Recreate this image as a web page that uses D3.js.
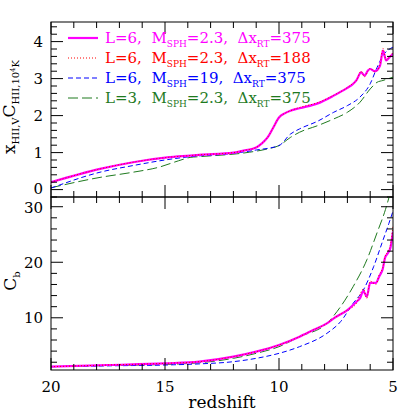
<!DOCTYPE html>
<html>
<head>
<meta charset="utf-8">
<script src="https://cdn.jsdelivr.net/npm/d3@7"></script>
<style>
  html, body { margin: 0; padding: 0; background: #fff; }
  text { font-family: "DejaVu Serif", "Liberation Serif", serif; white-space: pre; }
</style>
</head>
<body>
<div id="chart"></div>
<script>
// Ionized fraction (top) and clumping factor (bottom) vs redshift, 4 runs

// top panel: x_HII,V * C_HII,10^4K
const zMagTop = [20, 17.85, 16.4, 14.9, 13.9, 13.5, 12, 11.5, 11, 10.75, 10.5, 10.25, 10, 9.75, 9.5, 9.1, 8.3, 7.6, 7.0, 6.8, 6.6, 6.4, 6.25, 6.1, 6.0, 5.8, 5.57, 5.44, 5.3, 5.15, 5.0];
const vMagTop = [0.2, 0.56, 0.74, 0.87, 0.92, 0.94, 1.0, 1.06, 1.14, 1.25, 1.41, 1.68, 1.95, 2.06, 2.13, 2.2, 2.33, 2.54, 2.75, 2.83, 2.96, 3.17, 3.08, 3.22, 3.26, 3.2, 3.35, 3.76, 3.49, 3.58, 3.67];
const zRedTop = [20, 17.85, 16.4, 14.9, 13.9, 13.5, 12, 11.5, 11, 10.75, 10.5, 10.25, 10, 9.75, 9.5, 9.1, 8.3, 7.6, 7.0, 6.8, 6.6, 6.4, 6.25, 6.1, 6.0, 5.8, 5.57, 5.44, 5.3, 5.15, 5.0];
const vRedTop = [0.2, 0.56, 0.74, 0.87, 0.92, 0.94, 1.0, 1.06, 1.14, 1.25, 1.41, 1.68, 1.95, 2.06, 2.13, 2.22, 2.35, 2.55, 2.76, 2.85, 2.95, 3.2, 3.05, 3.2, 3.28, 3.18, 3.38, 3.82, 3.5, 3.6, 3.7];
const zBlueTop = [20, 17.85, 16.4, 14.9, 13.9, 12, 11, 10, 9.5, 9.1, 8.3, 7.6, 7.0, 6.45, 6.0, 5.7, 5.44, 5.0];
const vBlueTop = [0.04, 0.47, 0.65, 0.81, 0.89, 0.98, 1.07, 1.19, 1.5, 1.64, 1.85, 2.09, 2.27, 2.5, 2.86, 3.3, 3.62, 3.85];
const zGreenTop = [20, 17.85, 16.4, 15.3, 14.4, 13.9, 13.5, 11.3, 10.5, 10, 9.5, 9.1, 8.3, 7.6, 7.0, 6.45, 6.0, 5.7, 5.44, 5.0];
const vGreenTop = [0.05, 0.33, 0.47, 0.6, 0.78, 0.87, 0.89, 1.01, 1.1, 1.19, 1.41, 1.55, 1.73, 1.91, 2.09, 2.36, 2.72, 2.9, 2.95, 3.04];

// bottom panel: C_b
const zMagBot = [20, 17.5, 15, 13.5, 12, 11, 10, 9.1, 8.5, 7.9, 7.6, 7.0, 6.6, 6.45, 6.3, 6.15, 6.0, 5.75, 5.6, 5.45, 5.35, 5.25, 5.12, 5.0];
const vMagBot = [1.2, 1.5, 1.8, 2.1, 3.0, 3.9, 5.1, 6.6, 7.8, 9.0, 9.9, 11.4, 12.9, 13.5, 14.8, 13.8, 16.3, 16.3, 17.5, 18.8, 20.8, 21.5, 22.5, 25.5];
const zRedBot = [20, 17.5, 15, 13.5, 12, 11, 10, 9.1, 8.5, 7.9, 7.6, 7.0, 6.6, 6.45, 6.3, 6.15, 6.0, 5.75, 5.6, 5.45, 5.35, 5.25, 5.12, 5.0];
const vRedBot = [1.2, 1.5, 1.8, 2.1, 3.0, 3.9, 5.1, 6.6, 7.8, 9.0, 9.9, 11.4, 12.6, 14.2, 15.2, 13.5, 16.6, 16.0, 17.8, 19.0, 21.0, 21.8, 23.0, 26.5];
const zBlueBot = [20, 17.5, 15, 13.5, 12, 11, 10, 9.1, 7.9, 7.3, 6.75, 6.3, 5.85, 5.48, 5.18, 5.0];
const vBlueBot = [1.2, 1.35, 1.5, 1.7, 2.1, 2.7, 3.6, 4.8, 7.2, 9.3, 12.6, 15, 19.2, 23.5, 27, 29.2];
const zGreenBot = [20, 17.5, 15, 13.5, 12, 11, 10, 9.1, 7.9, 7.3, 6.75, 6.14, 5.7, 5.33, 5.12];
const vGreenBot = [1.2, 1.4, 1.6, 1.9, 2.7, 3.6, 4.8, 6.6, 9.0, 12, 15.6, 20.5, 25.3, 29.5, 32.5];

const runLabels = [
    ["L=6,  M", "SPH", "=2.3,  \u0394x", "RT", "=375"],
    ["L=6,  M", "SPH", "=2.3,  \u0394x", "RT", "=188"],
    ["L=6,  M", "SPH", "=19,  \u0394x", "RT", "=375"],
    ["L=3,  M", "SPH", "=2.3,  \u0394x", "RT", "=375"]
];
const runColors = ["#ff00ff", "#ff0000", "#0000ff", "#1e7a1e"];
const runDash = [null, "1,2", "5,3", "10,4"];
const runWidth = [2.2, 1, 1, 1];

const topTicks = [0, 1, 2, 3, 4];
const botTicks = [10, 20, 30];
const xTicks = [20, 15, 10, 5];

const W = 415, H = 415;
const left = 51, right = 393, top1 = 22, mid = 197, bottom = 370;

const svg = d3.select("#chart").append("svg")
    .attr("width", W)
    .attr("height", H);

const x = d3.scaleLinear().domain([20, 5]).range([left, right]);
const yTop = d3.scaleLinear().domain([-0.2, 4.53]).range([mid, top1]);
const yBot = d3.scaleLinear().domain([0.6, 31.75]).range([bottom, mid]);

function drawPanel(y, id, series, yMajor, yMinorStep) {
    svg.append("clipPath").attr("id", id)
        .append("rect")
        .attr("x", left).attr("y", y.range()[1])
        .attr("width", right - left).attr("height", y.range()[0] - y.range()[1]);

    const g = svg.append("g").attr("clip-path", `url(#${id})`);
    // back to front: green, blue, magenta, red dots on top
    [3, 2, 0, 1].forEach(i => {
        const s = series[i];
        const pts = s[0].map((z, j) => [z, s[1][j]]);
        const line = d3.line()
            .x(d => x(d[0]))
            .y(d => y(d[1]))
            .curve(d3.curveMonotoneX);
        g.append("path")
            .attr("d", line(pts))
            .attr("fill", "none")
            .attr("stroke", runColors[i])
            .attr("stroke-width", runWidth[i])
            .attr("stroke-dasharray", runDash[i]);
    });

    const ax = svg.append("g").attr("stroke", "#000").attr("stroke-width", 1);
    const [y0, y1] = y.range();
    ax.append("rect")
        .attr("x", left).attr("y", y1)
        .attr("width", right - left).attr("height", y0 - y1)
        .attr("fill", "none");

    // x ticks on the top and bottom edge
    d3.range(5, 20.01, 1).forEach(z => {
        const len = z % 5 === 0 ? 12 : 6;
        const xx = x(z);
        ax.append("line").attr("x1", xx).attr("x2", xx).attr("y1", y0).attr("y2", y0 - len);
        ax.append("line").attr("x1", xx).attr("x2", xx).attr("y1", y1).attr("y2", y1 + len);
    });

    // y ticks left and right
    const [d0, d1] = y.domain();
    const start = Math.ceil(d0 / yMinorStep) * yMinorStep;
    d3.range(start, d1 + 1e-9, yMinorStep).forEach(v => {
        const isMajor = Math.abs(v / yMajor - Math.round(v / yMajor)) < 1e-6;
        const len = isMajor ? 12 : 6;
        const yy = y(v);
        ax.append("line").attr("x1", left).attr("x2", left + len).attr("y1", yy).attr("y2", yy);
        ax.append("line").attr("x1", right).attr("x2", right - len).attr("y1", yy).attr("y2", yy);
    });
}

drawPanel(yTop, "clipTop",
    [[zMagTop, vMagTop], [zRedTop, vRedTop], [zBlueTop, vBlueTop], [zGreenTop, vGreenTop]],
    1, 0.2);
drawPanel(yBot, "clipBot",
    [[zMagBot, vMagBot], [zRedBot, vRedBot], [zBlueBot, vBlueBot], [zGreenBot, vGreenBot]],
    10, 2);

// tick labels
const fs = 15;
svg.append("g").selectAll("text").data(topTicks).join("text")
    .attr("x", left - 8).attr("y", d => yTop(d) - (d === 0 ? 1 : 0)).attr("dy", "0.36em")
    .attr("text-anchor", "end").attr("font-size", fs).text(d => d);
svg.append("g").selectAll("text").data(botTicks).join("text")
    .attr("x", left - 8).attr("y", d => yBot(d) + (d === 30 ? 1 : 0)).attr("dy", "0.36em")
    .attr("text-anchor", "end").attr("font-size", fs).text(d => d);
svg.append("g").selectAll("text").data(xTicks).join("text")
    .attr("x", d => x(d)).attr("y", 392)
    .attr("text-anchor", "middle").attr("font-size", fs).text(d => d);

svg.append("text")
    .attr("x", (left + right) / 2).attr("y", 408)
    .attr("text-anchor", "middle").attr("font-size", 17)
    .text("redshift");

// y labels
const yl1 = svg.append("text")
    .attr("transform", "translate(15,107) rotate(-90)")
    .attr("text-anchor", "middle").attr("font-size", 17);
yl1.append("tspan").text("x");
yl1.append("tspan").attr("font-size", 10).attr("dy", 4).text("HII,V");
yl1.append("tspan").attr("dy", -4).text("C");
yl1.append("tspan").attr("font-size", 10).attr("dy", 4).text("HII,10");
yl1.append("tspan").attr("font-size", 7).attr("dy", -4).text("4");
yl1.append("tspan").attr("font-size", 10).attr("dy", 4).text("K");

const yl2 = svg.append("text")
    .attr("transform", "translate(16,281) rotate(-90)")
    .attr("text-anchor", "middle").attr("font-size", 17);
yl2.append("tspan").text("C");
yl2.append("tspan").attr("font-size", 10).attr("dy", 4).text("b");

// legend
runLabels.forEach((parts, i) => {
    const yy = 38 + i * 20;
    svg.append("line")
        .attr("x1", 68).attr("x2", 98).attr("y1", yy).attr("y2", yy)
        .attr("stroke", runColors[i])
        .attr("stroke-width", runWidth[i])
        .attr("stroke-dasharray", runDash[i]);
    const t = svg.append("text")
        .attr("x", 105).attr("y", yy + 5)
        .attr("font-size", 15).attr("fill", runColors[i]);
    t.append("tspan").text(parts[0]);
    t.append("tspan").attr("font-size", 9).attr("dy", 4).text(parts[1]);
    t.append("tspan").attr("dy", -4).text(parts[2]);
    t.append("tspan").attr("font-size", 9).attr("dy", 4).text(parts[3]);
    t.append("tspan").attr("dy", -4).text(parts[4]);
});
</script>
</body>
</html>
